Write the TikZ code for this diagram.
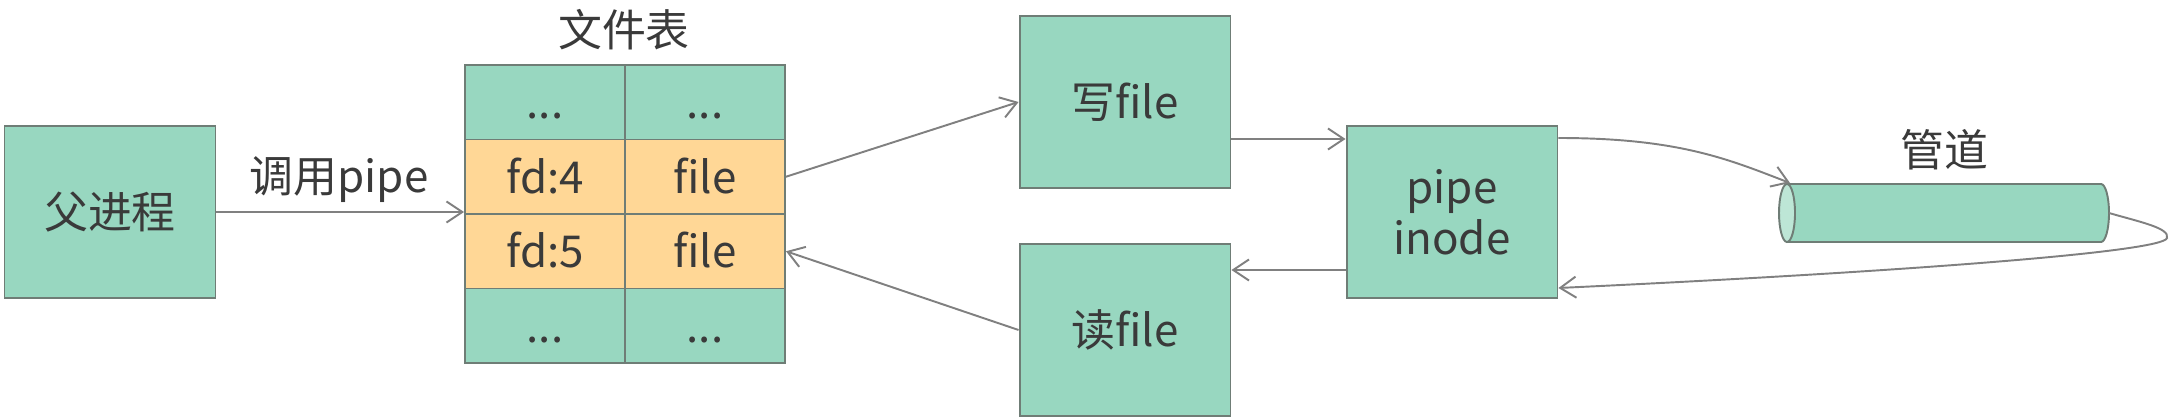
\documentclass[tikz,border=0pt]{standalone}
\usepackage{fontspec}
\setmainfont{Noto Sans CJK SC}
\usetikzlibrary{arrows.meta,calc}
\definecolor{boxgreen}{HTML}{98D7C0}
\definecolor{boxorange}{HTML}{FFD796}
\definecolor{boxline}{HTML}{6F7D76}
\definecolor{arrgray}{HTML}{808080}
\definecolor{txtgray}{HTML}{3A3A3A}
\definecolor{cylface}{HTML}{BDE6D6}
\begin{document}
\begin{tikzpicture}[x=0.02cm,y=-0.02cm,
  every node/.style={text=txtgray, font=\fontsize{25}{29}\selectfont},
  bigbox/.style={draw=boxline, line width=1.1pt, fill=boxgreen, minimum width=4.22cm, minimum height=3.43cm, inner sep=0pt, align=center},
  cell/.style={draw=boxline, line width=1.1pt, minimum width=3.2cm, minimum height=1.49cm, inner sep=0pt, text height=19pt, text depth=0pt},
  gcell/.style={cell, fill=boxgreen},
  ocell/.style={cell, fill=boxorange},
  arr/.style={draw=arrgray, line width=1.1pt, -{Straight Barb[length=9pt, width=12pt, line width=1.1pt]}},
  cyl/.style={draw=boxline, line width=1.1pt}]
\useasboundingbox (0,0) rectangle (2170,418);
% boxes
\node[bigbox] (par) at (110,212) {父进程};
\node[gcell] (c11) at (545,102.25) {...};
\node[gcell] (c12) at (705,102.25) {...};
\node[ocell] (c21) at (545,176.75) {fd:4};
\node[ocell] (c22) at (705,176.75) {file};
\node[ocell] (c31) at (545,251.25) {fd:5};
\node[ocell] (c32) at (705,251.25) {file};
\node[gcell] (c41) at (545,325.75) {...};
\node[gcell] (c42) at (705,325.75) {...};
\node[bigbox] (w) at (1125,102) {写file};
\node[bigbox] (r) at (1125,330) {读file};
\node[bigbox] (pi) at (1452,212) {pipe\\inode};
% labels
\node (tbl) at (624,30) {文件表};
\node (pipelbl) at (1944,150) {管道};
\node (call) at (339,180) {调用pipe};
% cylinder
\draw[cyl, fill=boxgreen] (1787,184) -- (2101,184) arc[start angle=-90, end angle=90, x radius=8, y radius=29] -- (1787,242) -- cycle;
\draw[cyl, fill=cylface] (1787,213) ellipse[x radius=8, y radius=29];
\coordinate (cylin) at (1790,183);
\coordinate (cylout) at (2109,213);
% levels
\coordinate (lv139) at (0,139);
\coordinate (lv270) at (0,270);
\coordinate (lv138) at (0,138);
\coordinate (lv288) at (0,288);
% connectors
\draw[arr] (par.east) -- (par.east -| c21.west);
\draw[arr] (c22.east) -- (w.west);
\draw[arr] (w.east |- lv139) -- (pi.west |- lv139);
\draw[arr] (pi.west |- lv270) -- (r.east |- lv270);
\draw[arr] (r.west) -- (c32.east);
\draw[arr] (pi.east |- lv138) .. controls (1680,138) and (1730,160) .. (cylin);
\draw[arr] (cylout) .. controls (2140,222) and (2170,228) .. (2167,238) .. controls (2164,252) and (1900,272) .. (pi.east |- lv288);
\end{tikzpicture}
\end{document}
